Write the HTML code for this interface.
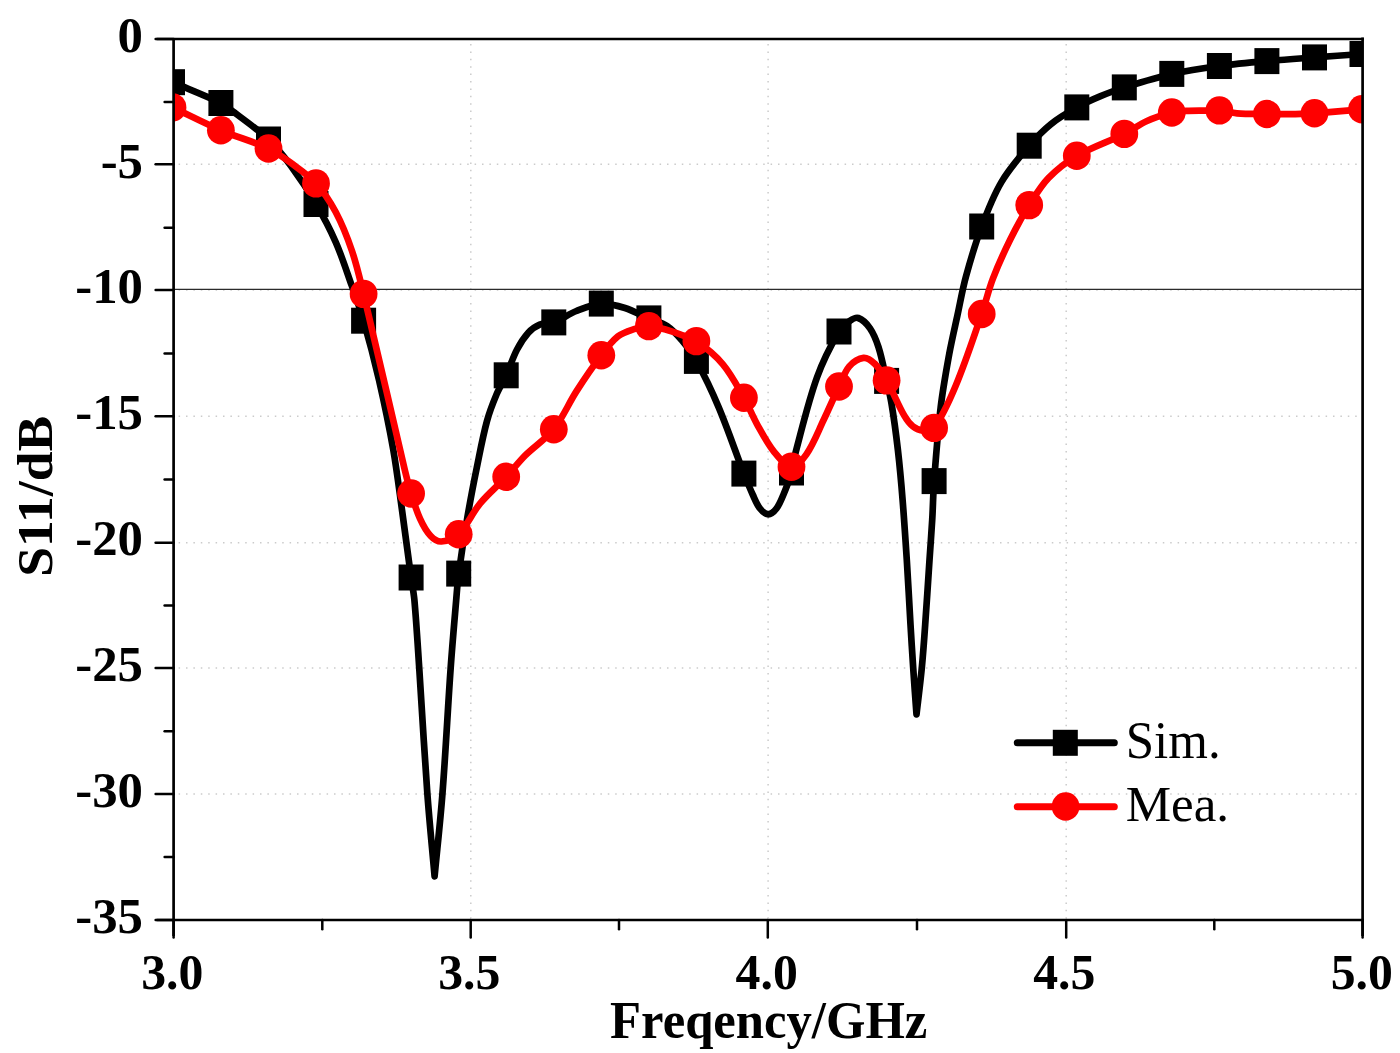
<!DOCTYPE html>
<html><head><meta charset="utf-8"><title>S11</title>
<style>html,body{margin:0;padding:0;background:#fff}body{width:1400px;height:1053px;overflow:hidden}svg{display:block}text{font-family:"Liberation Serif",serif;fill:#000}.b{font-weight:bold}</style></head><body>
<svg width="1400" height="1053" viewBox="0 0 1400 1053">
<rect width="1400" height="1053" fill="#fff"/>
<defs><clipPath id="cp"><rect x="173.60" y="39.00" width="1189.00" height="881.00"/></clipPath></defs>
<g stroke="#cbcbcb" stroke-width="1.5" stroke-dasharray="1.5 5.9" fill="none">
<path d="M470.8 44.0V918.0"/>
<path d="M768.1 44.0V918.0"/>
<path d="M1066.2 44.0V918.0"/>
<path d="M178.6 164.2H1360.6"/>
<path d="M178.6 290.0H1360.6"/>
<path d="M178.6 416.2H1360.6"/>
<path d="M178.6 542.8H1360.6"/>
<path d="M178.6 668.0H1360.6"/>
<path d="M178.6 794.0H1360.6"/>
</g>
<path d="M173.6 289.4H1362.6" stroke="#2b2b2b" stroke-width="1.3" fill="none"/>
<g clip-path="url(#cp)">
<path d="M172.5 82.2C188.6 89.1 205.2 95.4 220.9 103.0C225.3 105.1 229.0 108.4 232.9 111.4C244.9 120.6 257.5 129.2 268.5 139.5C276.9 147.4 284.1 156.7 291.0 166.0C300.0 178.2 308.4 190.9 316.0 204.0C323.3 216.3 330.0 229.0 335.7 242.1C341.8 256.0 346.4 270.6 351.5 285.0C355.7 296.8 360.1 308.6 363.6 320.7C369.3 340.3 374.4 360.1 379.0 380.0C384.3 403.2 389.2 426.6 393.3 450.0C396.8 469.9 399.2 490.0 402.0 510.0C405.1 532.5 408.0 555.0 411.1 577.5C412.2 585.0 413.7 592.5 414.4 600.0C416.4 622.5 417.7 645.0 419.2 667.5C422.0 709.7 424.3 752.0 427.4 794.2C429.4 821.6 432.2 848.9 434.6 876.3L434.6 876.3C437.2 848.9 440.3 821.6 442.4 794.2C445.7 752.0 447.7 709.7 450.7 667.5C452.3 645.0 454.3 622.5 456.2 600.0C456.9 591.2 457.5 582.4 458.7 573.6C461.2 555.0 464.1 536.4 467.3 517.9C470.2 500.7 473.5 483.7 477.0 466.6C480.1 451.4 482.9 436.0 487.0 421.0C489.4 412.0 492.9 403.1 496.5 394.5C499.3 387.9 503.2 381.8 506.2 375.3C510.0 366.9 512.7 357.9 516.9 349.8C520.0 343.7 523.8 337.7 528.3 332.7C531.4 329.3 535.5 326.3 539.7 324.6C544.0 322.9 549.4 324.0 553.8 322.4C561.6 319.5 568.6 314.1 576.4 311.0C584.4 307.8 592.9 304.1 601.3 303.6C609.1 303.1 617.4 305.6 625.0 308.0C633.2 310.6 640.9 315.0 648.9 318.4C654.9 321.0 661.7 322.4 667.1 326.0C672.8 329.8 677.6 335.4 682.1 340.7C687.4 347.0 692.4 353.7 696.4 360.9C704.6 375.8 712.0 391.4 718.6 407.1C727.8 428.9 735.3 451.5 743.9 473.6C746.8 480.8 749.7 488.0 752.9 495.0C755.0 499.6 756.9 504.6 760.0 508.5C762.0 511.1 765.5 514.3 768.2 514.3C771.0 514.3 774.5 511.1 776.5 508.5C779.5 504.6 781.4 499.6 783.3 495.0C786.4 487.6 789.3 480.1 791.5 472.5C793.4 465.8 793.9 458.8 795.7 452.1C802.4 427.0 808.3 401.5 817.1 377.1C822.8 361.3 830.6 345.9 839.0 331.5C841.6 327.1 845.9 323.7 850.0 320.8C852.3 319.2 855.9 317.1 858.3 318.0C862.6 319.6 867.1 324.1 870.0 328.3C873.8 333.8 876.4 340.6 878.5 347.1C882.0 358.1 884.0 369.6 886.6 380.9C888.3 388.2 890.2 395.5 891.4 402.9C894.0 418.5 896.1 434.3 897.9 450.0C899.8 466.6 901.3 483.3 902.6 500.0C904.2 520.0 905.5 540.0 906.8 560.0C908.2 581.5 909.2 603.1 910.5 624.6C911.4 639.1 912.2 653.5 913.2 668.0C914.2 683.4 915.4 698.9 916.5 714.3L916.5 714.3C918.3 698.9 920.3 683.5 921.8 668.0C923.2 653.6 924.2 639.1 925.2 624.6C926.7 603.1 928.1 581.5 929.5 560.0C930.4 546.7 931.4 533.3 932.2 520.0C933.0 507.0 933.1 494.0 934.1 481.1C936.0 456.4 937.8 431.7 940.7 407.1C942.8 389.2 946.1 371.4 949.3 353.6C951.7 340.7 954.7 327.9 957.5 315.0C960.3 302.1 962.5 289.1 966.0 276.4C970.6 259.6 975.5 242.8 981.7 226.5C987.3 211.4 993.2 196.0 1001.4 182.1C1009.1 169.0 1019.3 157.3 1029.2 145.7C1035.8 138.0 1042.9 130.6 1050.7 124.3C1058.7 117.8 1067.8 112.5 1076.8 107.4C1084.2 103.2 1092.1 99.7 1100.0 96.4C1108.0 93.1 1116.1 90.0 1124.3 87.4C1140.0 82.5 1155.8 77.5 1171.8 73.9C1187.5 70.4 1203.5 68.1 1219.4 66.0C1235.2 63.9 1251.1 62.5 1266.9 61.1C1282.8 59.7 1298.6 58.6 1314.5 57.4C1330.3 56.2 1346.2 55.1 1362.0 54.0" fill="none" stroke="#000" stroke-width="6.7" stroke-linejoin="round" stroke-linecap="round"/>
<rect x="160.0" y="69.2" width="25.0" height="26.0" fill="#000"/>
<rect x="208.4" y="90.0" width="25.0" height="26.0" fill="#000"/>
<rect x="256.0" y="126.5" width="25.0" height="26.0" fill="#000"/>
<rect x="303.5" y="191.0" width="25.0" height="26.0" fill="#000"/>
<rect x="351.1" y="307.7" width="25.0" height="26.0" fill="#000"/>
<rect x="398.6" y="564.5" width="25.0" height="26.0" fill="#000"/>
<rect x="446.2" y="560.6" width="25.0" height="26.0" fill="#000"/>
<rect x="493.7" y="362.3" width="25.0" height="26.0" fill="#000"/>
<rect x="541.3" y="309.4" width="25.0" height="26.0" fill="#000"/>
<rect x="588.8" y="290.6" width="25.0" height="26.0" fill="#000"/>
<rect x="636.4" y="305.4" width="25.0" height="26.0" fill="#000"/>
<rect x="683.9" y="347.9" width="25.0" height="26.0" fill="#000"/>
<rect x="731.4" y="460.6" width="25.0" height="26.0" fill="#000"/>
<rect x="779.0" y="459.5" width="25.0" height="26.0" fill="#000"/>
<rect x="826.5" y="318.5" width="25.0" height="26.0" fill="#000"/>
<rect x="874.1" y="367.9" width="25.0" height="26.0" fill="#000"/>
<rect x="921.6" y="468.1" width="25.0" height="26.0" fill="#000"/>
<rect x="969.2" y="213.5" width="25.0" height="26.0" fill="#000"/>
<rect x="1016.7" y="132.7" width="25.0" height="26.0" fill="#000"/>
<rect x="1064.3" y="94.4" width="25.0" height="26.0" fill="#000"/>
<rect x="1111.8" y="74.4" width="25.0" height="26.0" fill="#000"/>
<rect x="1159.3" y="60.9" width="25.0" height="26.0" fill="#000"/>
<rect x="1206.9" y="53.0" width="25.0" height="26.0" fill="#000"/>
<rect x="1254.4" y="48.1" width="25.0" height="26.0" fill="#000"/>
<rect x="1302.0" y="44.4" width="25.0" height="26.0" fill="#000"/>
<rect x="1349.5" y="41.0" width="25.0" height="26.0" fill="#000"/>
<path d="M172.5 107.4C188.6 115.0 204.5 123.3 220.9 130.3C236.5 137.0 253.2 141.4 268.5 148.5C276.5 152.3 283.8 157.7 291.0 163.0C299.7 169.4 308.9 175.5 316.0 183.4C323.8 191.9 330.3 201.8 335.7 212.0C342.3 224.4 347.5 237.7 352.0 251.0C356.8 265.0 360.0 279.5 363.6 293.9C371.4 325.9 378.7 358.0 386.2 390.0C392.4 416.7 398.4 443.4 404.8 470.0C406.7 477.9 408.7 485.8 411.1 493.5C413.8 502.0 416.3 510.6 420.0 518.6C422.8 524.8 426.2 531.2 430.7 536.0C433.3 538.8 437.8 541.7 441.4 541.5C447.1 541.1 454.4 538.4 458.7 534.2C467.2 525.8 472.1 513.1 480.0 503.6C487.9 494.0 497.7 485.9 506.2 476.8C512.7 469.9 518.4 462.4 525.0 455.7C534.2 446.5 545.7 439.3 553.8 429.2C562.8 417.8 568.5 403.7 576.4 391.4C584.3 379.1 592.5 367.0 601.3 355.3C606.3 348.6 611.5 341.5 617.9 336.4C622.7 332.7 629.1 330.9 635.0 328.9C639.4 327.4 644.2 325.9 648.9 326.1C654.9 326.3 661.1 328.4 667.1 330.0C671.5 331.2 675.8 332.7 680.0 334.3C685.5 336.4 691.6 337.7 696.4 341.1C705.9 347.7 715.4 355.4 722.9 364.3C731.3 374.3 737.4 386.3 743.9 397.7C748.8 406.3 752.3 415.7 757.1 424.3C762.4 433.8 767.5 443.7 774.3 452.1C779.0 457.9 785.7 466.3 791.5 466.7C796.4 467.0 802.8 459.5 806.4 454.3C813.5 444.0 818.1 431.5 823.6 420.0C828.9 408.9 833.7 397.6 839.0 386.5C842.3 379.7 844.6 371.9 849.3 366.4C852.8 362.4 858.8 358.4 863.6 357.9C867.3 357.6 872.0 361.1 875.0 364.0C879.7 368.6 883.3 374.6 886.6 380.4C893.1 391.8 897.8 404.3 904.3 415.7C906.6 419.7 909.4 423.7 912.9 426.4C915.8 428.7 920.0 430.4 923.6 430.7C927.0 430.9 932.1 430.7 934.1 427.9C942.8 415.7 949.6 400.3 955.7 385.7C965.5 362.3 973.3 338.0 981.7 314.0C985.7 302.3 988.5 290.1 992.9 278.6C997.9 265.5 1003.8 252.6 1010.0 240.0C1015.9 228.1 1022.2 216.4 1029.2 205.1C1035.1 195.7 1040.9 185.8 1048.6 177.9C1056.8 169.4 1066.5 161.8 1076.8 155.8C1091.7 147.1 1108.7 141.6 1124.3 133.9C1132.1 130.0 1139.1 124.6 1147.0 121.0C1154.9 117.4 1163.4 114.7 1171.8 112.5C1176.4 111.3 1181.3 111.2 1186.0 110.9C1192.6 110.5 1199.3 110.7 1206.0 110.6C1210.5 110.5 1215.0 110.0 1219.4 110.4C1225.3 110.9 1231.1 112.9 1237.0 113.3C1246.9 114.1 1257.0 113.8 1266.9 114.0C1274.6 114.1 1282.3 114.3 1290.0 114.2C1298.2 114.1 1306.3 113.7 1314.5 113.2C1322.3 112.7 1330.2 112.1 1338.0 111.4C1346.0 110.7 1354.0 109.9 1362.0 109.2" fill="none" stroke="#fe0000" stroke-width="6.7" stroke-linejoin="round" stroke-linecap="round"/>
<ellipse cx="172.5" cy="107.4" rx="13.9" ry="14.2" fill="#fe0000"/>
<ellipse cx="220.9" cy="130.3" rx="13.9" ry="14.2" fill="#fe0000"/>
<ellipse cx="268.5" cy="148.5" rx="13.9" ry="14.2" fill="#fe0000"/>
<ellipse cx="316.0" cy="183.4" rx="13.9" ry="14.2" fill="#fe0000"/>
<ellipse cx="363.6" cy="293.9" rx="13.9" ry="14.2" fill="#fe0000"/>
<ellipse cx="411.1" cy="493.5" rx="13.9" ry="14.2" fill="#fe0000"/>
<ellipse cx="458.7" cy="534.2" rx="13.9" ry="14.2" fill="#fe0000"/>
<ellipse cx="506.2" cy="476.8" rx="13.9" ry="14.2" fill="#fe0000"/>
<ellipse cx="553.8" cy="429.2" rx="13.9" ry="14.2" fill="#fe0000"/>
<ellipse cx="601.3" cy="355.3" rx="13.9" ry="14.2" fill="#fe0000"/>
<ellipse cx="648.9" cy="326.1" rx="13.9" ry="14.2" fill="#fe0000"/>
<ellipse cx="696.4" cy="341.1" rx="13.9" ry="14.2" fill="#fe0000"/>
<ellipse cx="743.9" cy="397.7" rx="13.9" ry="14.2" fill="#fe0000"/>
<ellipse cx="791.5" cy="466.7" rx="13.9" ry="14.2" fill="#fe0000"/>
<ellipse cx="839.0" cy="386.5" rx="13.9" ry="14.2" fill="#fe0000"/>
<ellipse cx="886.6" cy="380.4" rx="13.9" ry="14.2" fill="#fe0000"/>
<ellipse cx="934.1" cy="427.9" rx="13.9" ry="14.2" fill="#fe0000"/>
<ellipse cx="981.7" cy="314.0" rx="13.9" ry="14.2" fill="#fe0000"/>
<ellipse cx="1029.2" cy="205.1" rx="13.9" ry="14.2" fill="#fe0000"/>
<ellipse cx="1076.8" cy="155.8" rx="13.9" ry="14.2" fill="#fe0000"/>
<ellipse cx="1124.3" cy="133.9" rx="13.9" ry="14.2" fill="#fe0000"/>
<ellipse cx="1171.8" cy="112.5" rx="13.9" ry="14.2" fill="#fe0000"/>
<ellipse cx="1219.4" cy="110.4" rx="13.9" ry="14.2" fill="#fe0000"/>
<ellipse cx="1266.9" cy="114.0" rx="13.9" ry="14.2" fill="#fe0000"/>
<ellipse cx="1314.5" cy="113.2" rx="13.9" ry="14.2" fill="#fe0000"/>
<ellipse cx="1362.0" cy="109.2" rx="13.9" ry="14.2" fill="#fe0000"/>
</g>
<g stroke="#000" stroke-width="2.7" fill="none" stroke-linecap="butt">
<path d="M156.6 39.0H1363.9"/>
<path d="M156.6 920.0H1363.9"/>
<path d="M173.6 39.0V936.0"/>
<path d="M1362.6 37.6V936.0"/>
</g>
<g stroke="#000" stroke-width="2.5" fill="none" stroke-linecap="round">
<path d="M155.6 39.0H173.6"/>
<path d="M155.6 920.0H173.6"/>
<path d="M173.6 920.0V937.6"/>
<path d="M1362.6 920.0V937.6"/>
<path d="M164.6 101.9H173.6"/>
<path d="M155.6 164.2H173.6"/>
<path d="M164.6 227.8H173.6"/>
<path d="M155.6 290.0H173.6"/>
<path d="M164.6 353.6H173.6"/>
<path d="M155.6 416.2H173.6"/>
<path d="M164.6 479.5H173.6"/>
<path d="M155.6 542.8H173.6"/>
<path d="M164.6 605.4H173.6"/>
<path d="M155.6 668.0H173.6"/>
<path d="M164.6 731.2H173.6"/>
<path d="M155.6 794.0H173.6"/>
<path d="M164.6 857.1H173.6"/>
<path d="M322.3 920.0V929.2"/>
<path d="M470.7 920.0V937.6"/>
<path d="M619.0 920.0V929.2"/>
<path d="M767.8 920.0V937.6"/>
<path d="M917.0 920.0V929.2"/>
<path d="M1066.2 920.0V937.6"/>
<path d="M1214.3 920.0V929.2"/>
</g>
<text class="b" font-size="50.8" text-anchor="end" transform="translate(143.0 51.6) scale(1.000 1.000)">0</text>
<text class="b" font-size="50.8" text-anchor="end" transform="translate(143.0 177.5) scale(1.000 1.000)">-5</text>
<text class="b" font-size="50.8" text-anchor="end" transform="translate(143.0 303.3) scale(1.000 1.000)">-10</text>
<text class="b" font-size="50.8" text-anchor="end" transform="translate(143.0 429.2) scale(1.000 1.000)">-15</text>
<text class="b" font-size="50.8" text-anchor="end" transform="translate(143.0 555.0) scale(1.000 1.000)">-20</text>
<text class="b" font-size="50.8" text-anchor="end" transform="translate(143.0 680.9) scale(1.000 1.000)">-25</text>
<text class="b" font-size="50.8" text-anchor="end" transform="translate(143.0 806.7) scale(1.000 1.000)">-30</text>
<text class="b" font-size="50.8" text-anchor="end" transform="translate(143.0 932.6) scale(1.000 1.000)">-35</text>
<text class="b" font-size="49.8" text-anchor="middle" transform="translate(172.3 988.9) scale(1.000 1.035)">3.0</text>
<text class="b" font-size="49.8" text-anchor="middle" transform="translate(469.3 988.9) scale(1.000 1.035)">3.5</text>
<text class="b" font-size="49.8" text-anchor="middle" transform="translate(766.7 988.9) scale(1.000 1.035)">4.0</text>
<text class="b" font-size="49.8" text-anchor="middle" transform="translate(1064.3 988.9) scale(1.000 1.035)">4.5</text>
<text class="b" font-size="49.8" text-anchor="middle" transform="translate(1361.8 988.9) scale(1.000 1.035)">5.0</text>
<text class="b" font-size="50.7" text-anchor="middle" transform="translate(768.7 1037.6) scale(1.000 1.040)">Freqency/GHz</text>
<text class="b" font-size="51.0" text-anchor="middle" transform="translate(52.0 496.2) rotate(-90) scale(1.052 1.000)">S11/dB</text>
<path d="M1017.3 742.7H1114.3" stroke="#000" stroke-width="7" stroke-linecap="round"/>
<rect x="1052.8" y="729.8" width="25" height="26" fill="#000"/>
<path d="M1017.3 806.8H1114.3" stroke="#fe0000" stroke-width="7" stroke-linecap="round"/>
<ellipse cx="1065.6" cy="806.5" rx="13.9" ry="14.2" fill="#fe0000"/>
<text class="r" font-size="51.0" text-anchor="start" transform="translate(1125.7 757.6) scale(1.000 1.025)">Sim.</text>
<text class="r" font-size="51.0" text-anchor="start" transform="translate(1125.7 821.4) scale(1.000 1.000)">Mea.</text>
</svg></body></html>
